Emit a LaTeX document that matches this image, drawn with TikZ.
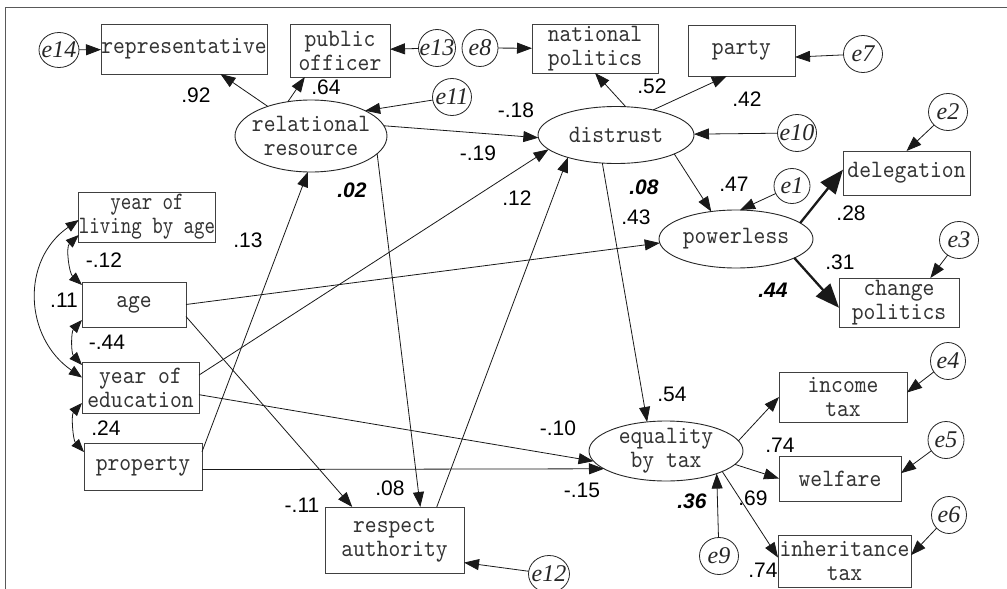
\documentclass[tikz,border=0pt]{standalone}
\usepackage{fontspec}
\setmainfont{Liberation Serif}
\setsansfont{Liberation Sans}
\usetikzlibrary{arrows.meta,shapes.geometric,calc}

% fonts: boxes (serif mono), coefficients (sans), error terms (italic serif)
\newfontfamily\boxfam{lmmono10-regular.otf}[FakeStretch=0.9]
\newfontfamily\narrowboxfam{lmmono10-regular.otf}[FakeStretch=0.8]
\newcommand\boxfont{\boxfam\fontsize{25}{24}\selectfont}
\newcommand\narrowboxfont{\narrowboxfam\fontsize{25}{24}\selectfont}
\newcommand\lblfont{\sffamily\fontsize{21}{21}\selectfont}
\newcommand\errfont{\rmfamily\itshape\fontsize{24}{24}\selectfont}

\begin{document}
\begin{tikzpicture}[x=1pt,y=-1pt,
  every node/.style={inner sep=0pt, outer sep=0pt},
  obs/.style={draw=black!75, line width=0.9pt, rectangle, align=center,
    font=\boxfont, text=black!80},
  lat/.style={draw=black!85, line width=0.9pt, ellipse,
    label={[font=\boxfont, align=center, text=black!80]center:#1}},
  err/.style={draw=black!85, line width=0.8pt, ellipse,
    minimum width=39, minimum height=37,
    label={[font=\errfont, text=black!85]center:#1}},
  lbl/.style={font=\lblfont},
  blbl/.style={font=\lblfont\bfseries\itshape},
  link/.style={draw=black!90, line width=0.8pt,
    -{Triangle[length=15pt,width=11pt]}},
  heavy/.style={draw=black!90, line width=2.3pt,
    -{Triangle[length=24pt,width=19pt]}},
  cov/.style={draw=black!90, line width=0.8pt,
    {Triangle[length=13pt,width=10pt]}-{Triangle[length=13pt,width=10pt]}},
]
\clip (0,0) rectangle (1007,589);
\fill[white] (0,0) rectangle (1007,589);

% outer frame
\draw[black!65, line width=1pt] (5,600) -- (5,7) -- (1012,7);

% observed variables
\node[obs, minimum width=166, minimum height=50] (rep) at (184,49) {representative};
\node[obs, minimum width=100, minimum height=53] (pub) at (340,50.5) {public\\officer};
\node[obs, minimum width=126, minimum height=49] (nat) at (595,48.5) {national\\politics};
\node[obs, minimum width=107, minimum height=51] (party) at (741.5,50.5) {party};
\node[obs, minimum width=127, minimum height=44] (deleg) at (906.5,173) {delegation};
\node[obs, minimum width=120, minimum height=49] (change) at (899,302.5) {change\\politics};
\node[obs, minimum width=128, minimum height=50] (income) at (843,397) {income\\tax};
\node[obs, minimum width=122, minimum height=45] (welfare) at (840,478.5) {welfare};
\node[obs, minimum width=133, minimum height=52] (inher) at (844.5,561) {inheritance\\tax};
\node[obs, minimum width=139, minimum height=66] (respect) at (394.5,540) {respect\\authority};
\node[obs, font=\narrowboxfont, minimum width=132, minimum height=50] (living) at (147,217) {year of\\living by age};
\node[obs, minimum width=104, minimum height=45] (age) at (134,304.5) {age};
\node[obs, minimum width=117, minimum height=51] (edu) at (140.5,387.5) {year of\\education};
\node[obs, minimum width=118, minimum height=47] (prop) at (143,466.5) {property};

% latent variables
\node[lat={relational\\resource}, minimum width=152, minimum height=72] (rel) at (311,136) {};
\node[lat={distrust}, minimum width=156, minimum height=57] (dist) at (616,135) {};
\node[lat={powerless}, minimum width=154, minimum height=58] (pow) at (736,239) {};
\node[lat={equality\\by tax}, minimum width=154, minimum height=60] (eq) at (666,451) {};

% error terms
\node[err=e14, minimum width=40, minimum height=35] (e14) at (59,50) {};
\node[err=e13, minimum width=37] (e13) at (437,48) {};
\node[err=e8, minimum width=36] (e8) at (480,48) {};
\node[err=e7] (e7) at (863,54) {};
\node[err=e11] (e11) at (452,97) {};
\node[err=e10] (e10) at (797,133) {};
\node[err=e2] (e2) at (948,112) {};
\node[err=e1, minimum width=36, minimum height=35] (e1) at (792,186) {};
\node[err=e3] (e3) at (959,240) {};
\node[err=e4, minimum width=35] (e4) at (948,361) {};
\node[err=e5, minimum width=36] (e5) at (946,440) {};
\node[err=e6, minimum width=35] (e6) at (949,515) {};
\node[err=e9] (e9) at (719,556) {};
\node[err=e12, minimum width=41] (e12) at (549,574) {};

% regression paths
\draw[link] (e14) -- (rep);
\draw[link] (rel) -- (rep);
\draw[link] (rel.124) -- (pub.-143);
\draw[link] (e13) -- (pub);
\draw[link] (e8) -- (nat);
\draw[link] (dist.71) -- (nat.south);
\draw[link] (dist.34) -- (party.-120);
\draw[link] (e7) -- (party.-7);
\draw[link] (e11) -- (rel.25);
\draw[link] (rel.8) -- (dist.182);
\draw[link] (e10) -- (dist);
\draw[link] (dist.-18) -- (pow.132);
\draw[link] (e1) -- (pow.82);
\draw[link] (e2) -- (deleg.north);
\draw[heavy] (pow.14) -- (deleg.177);
\draw[heavy] (pow.-18) -- (change.185);
\draw[link] (e3) -- (change.38);
\draw[link] (dist.-116) -- (eq.123);
\draw[link] (e4) -- (income.4);
\draw[link] (eq.8) -- (income.west);
\draw[link] (eq.-11) -- (welfare.west);
\draw[link] (eq.-20) -- (inher.177);
\draw[link] (e5) -- (welfare.5);
\draw[link] (e6) -- (inher.5);
\draw[link] (e9) -- (eq.-24);
\draw[link] (e12) -- (respect.-18);
\draw[link] (age.east) -- (pow.183);
\draw[link] (age.-13) -- (respect.142);
\draw[link] (edu.12) -- (dist.192);
\draw[link] (edu.-7) -- (eq.188);
\draw[link] (prop.14) -- (rel.265);
\draw[link] (prop.-3) -- (eq.196);
\draw[link] (rel.-15) -- (respect.52);
\draw[link] (respect.38) -- (dist.205);

% covariances among exogenous variables
\draw[cov] ($(living.south west)+(0,-7)$) .. controls +(-13,12) and +(-13,-12) .. ($(age.north west)+(0,3)$);
\draw[cov] ($(age.south west)+(0,-7)$) .. controls +(-11,12) and +(-11,-12) .. ($(edu.north west)+(0,3)$);
\draw[cov] ($(living.west)+(0,3)$) .. controls +(-58,40) and +(-58,-40) .. ($(edu.west)+(0,-10)$);
\draw[cov] ($(edu.south west)+(0,-10)$) .. controls +(-11,12) and +(-11,-12) .. ($(prop.north west)+(0,9)$);

% coefficients
\node[lbl] (c1) at (196,95) {.92};
\node[lbl] (c2) at (326,87) {.64};
\node[lbl] (c3) at (516,110) {-.18};
\node[lbl] (c4) at (478,153) {-.19};
\node[lbl] (c5) at (652,86) {.52};
\node[lbl] (c6) at (747,99) {.42};
\node[blbl] (c7) at (352,190) {.02};
\node[blbl] (c8) at (644,187) {.08};
\node[lbl] (c9) at (734,184) {.47};
\node[lbl] (c10) at (517,198) {.12};
\node[lbl] (c11) at (636,217) {.43};
\node[lbl] (c12) at (248,240) {.13};
\node[lbl] (c13) at (104,260) {-.12};
\node[lbl] (c14) at (64,300) {.11};
\node[lbl] (c15) at (107,342) {-.44};
\node[lbl] (c16) at (106,428) {.24};
\node[lbl] (c17) at (851,213) {.28};
\node[lbl] (c18) at (840,262) {.31};
\node[blbl] (c19) at (773,290) {.44};
\node[lbl] (c20) at (672,394) {.54};
\node[lbl] (c21) at (558,428) {-.10};
\node[lbl] (c22) at (582,490) {-.15};
\node[lbl] (c23) at (390,488) {.08};
\node[lbl] (c24) at (302,505) {-.11};
\node[blbl] (c25) at (692,501) {.36};
\node[lbl] (c26) at (780,445) {.74};
\node[lbl] (c27) at (753,498) {.69};
\node[lbl] (c28) at (763,570) {.74};
\node[blbl] (c29) at (441,597) {.02};
\end{tikzpicture}
\end{document}
